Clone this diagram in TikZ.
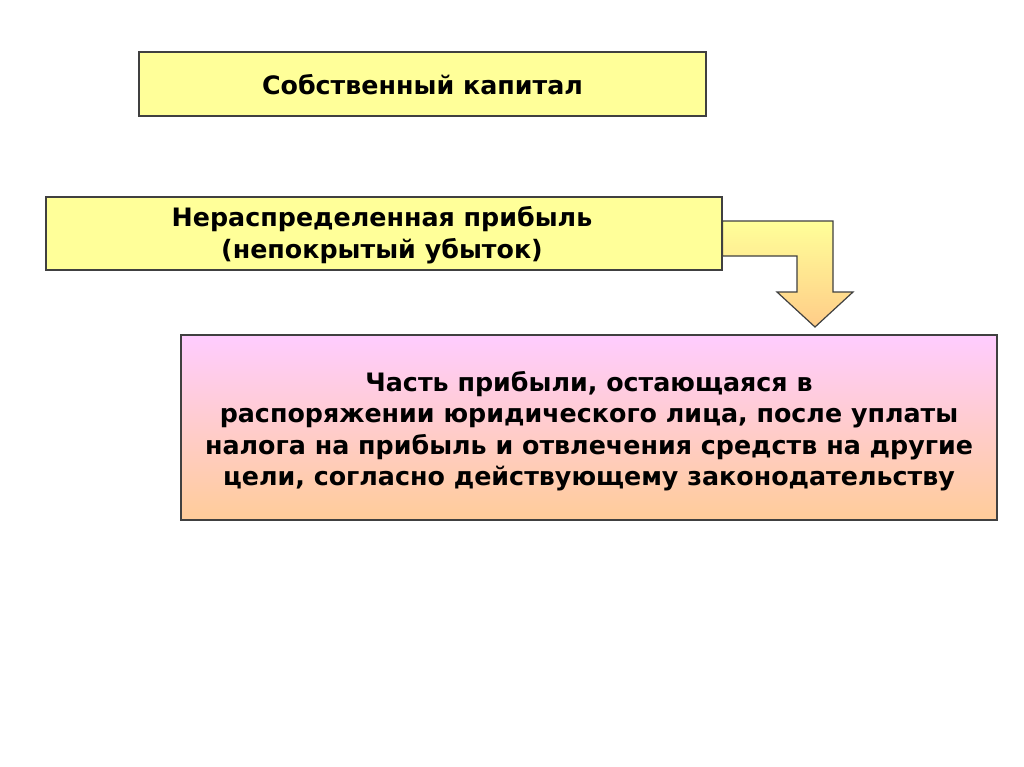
\documentclass[tikz,border=0pt]{standalone}
\usepackage{fontspec}
\setmainfont{DejaVu Sans}
\definecolor{boxyellow}{HTML}{FFFF99}
\definecolor{boxborder}{HTML}{404040}
\definecolor{pinktop}{HTML}{FFCCFF}
\definecolor{peachbot}{HTML}{FFCC99}
\definecolor{arrowbot}{HTML}{FFCC88}
\begin{document}
\begin{tikzpicture}[x=0.75pt,y=-0.75pt,
  ybox/.style={draw=boxborder,line width=0.9pt,fill=boxyellow,rectangle,inner sep=0pt},
  txt/.style={font=\bfseries\fontsize{19}{23.6}\selectfont,align=center}]
\useasboundingbox[fill=white] (0,0) rectangle (1024,767);
\node[ybox,minimum width=567*0.75pt,minimum height=64*0.75pt] (cap) at (422.5,84) {};
\node[txt] (captxt) at (422.5,85) {Собственный капитал};
\node[ybox,minimum width=676*0.75pt,minimum height=73*0.75pt] (np) at (384,233.5) {};
\node[txt] (nptxt) at (382,235) {Нераспределенная прибыль\\(непокрытый убыток)};
\node[draw=boxborder,line width=0.9pt,rectangle,top color=pinktop,bottom color=peachbot,minimum width=816*0.75pt,minimum height=185*0.75pt] (def) at (589,427.5) {};
\node[txt] (deftxt) at (589,431) {Часть прибыли, остающаяся в\\распоряжении юридического лица, после уплаты\\налога на прибыль и отвлечения средств на другие\\цели, согласно действующему законодательству};
% bent arrow
\coordinate (a1) at (np.east |- 0,221);
\coordinate (a2) at (np.east |- 0,256);
\draw[draw=boxborder,line width=0.9pt,top color=boxyellow,bottom color=arrowbot]
  (a1) -- (833,221) -- (833,292) -- (853,292) -- (815,327) -- (777,292) -- (797,292) -- (797,256) -- (a2) -- cycle;
\end{tikzpicture}
\end{document}
